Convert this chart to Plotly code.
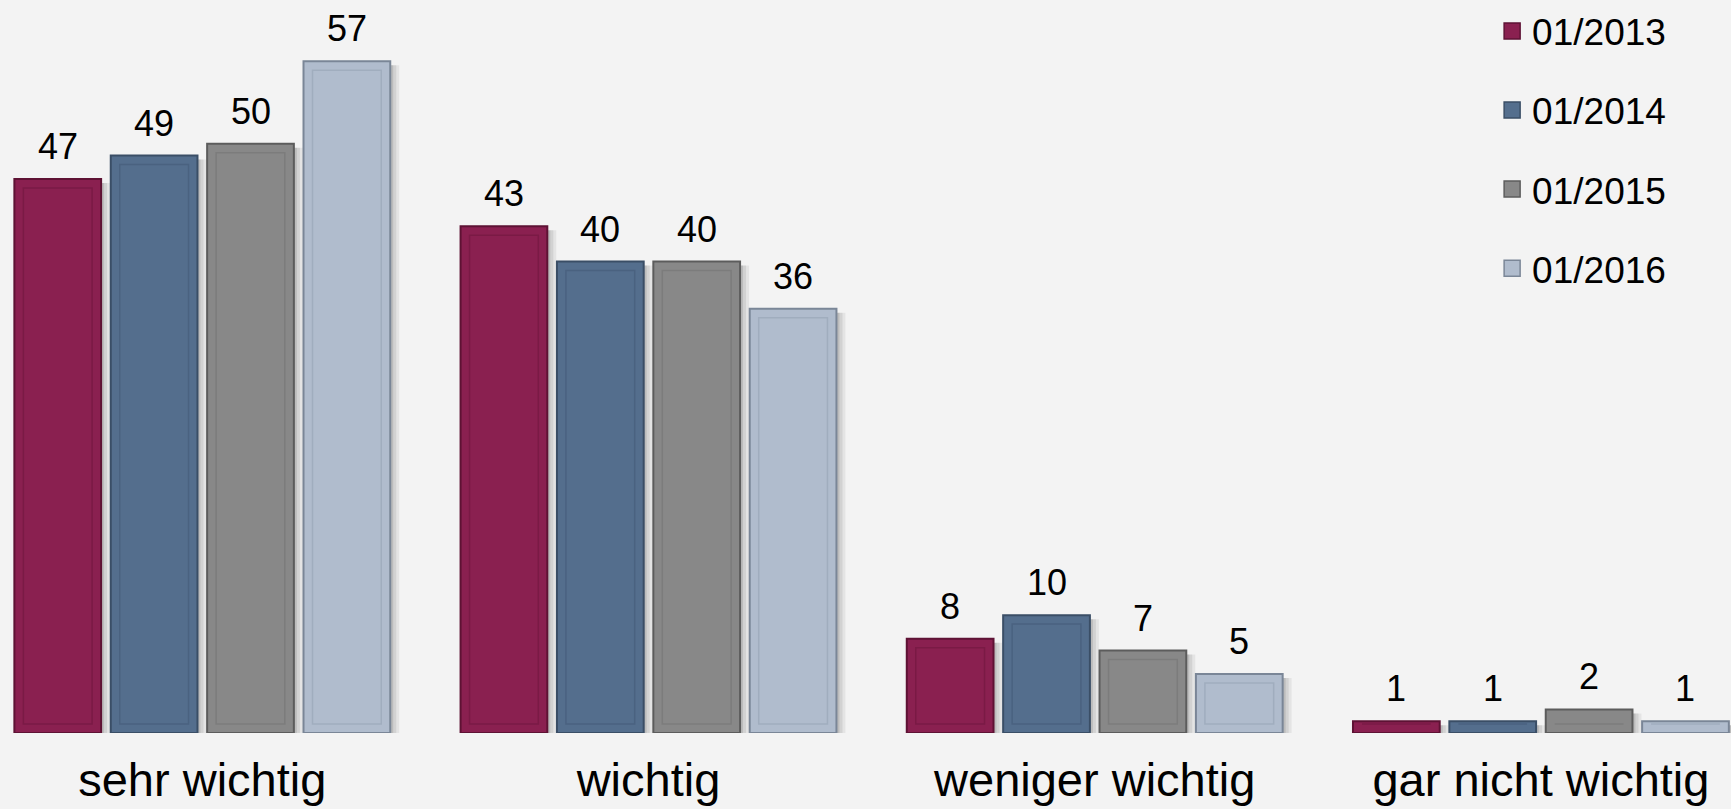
import plotly.graph_objects as go

categories = ["sehr wichtig", "wichtig", "weniger wichtig", "gar nicht wichtig"]
series_names = ["01/2013", "01/2014", "01/2015", "01/2016"]
values_2013 = [47, 43, 8, 1]
values_2014 = [49, 40, 10, 1]
values_2015 = [50, 40, 7, 2]
values_2016 = [57, 36, 5, 1]
series_values = [values_2013, values_2014, values_2015, values_2016]

fill_colors = ["#8A2050", "#546E8D", "#888888", "#B0BCCD"]
edge_colors = ["#5E1234", "#3A4E66", "#5C5C5C", "#7A8697"]
inner_colors = ["#7A1A45", "#4A6280", "#7C7C7C", "#A0ADBE"]

FONT = "Liberation Sans, Arial, Helvetica, sans-serif"
BARGAP = 0.136
GROUPGAP = 0.10
N = len(series_names)
slot = (1 - BARGAP) / N
bar_w = slot * (1 - GROUPGAP)
PX_X = 446.2   # pixels per category unit
PX_Y = 11.85   # pixels per value unit

def bar_offset(j):
    return -(1 - BARGAP) / 2 + j * slot + (slot - bar_w) / 2

fig = go.Figure()

# soft drop shadows (drawn first)
for j, vals in enumerate(series_values):
    for shift, alpha in ((9, 0.06), (6, 0.08), (3, 0.10)):
        fig.add_trace(go.Bar(
            x=categories, y=[max(v - 4 / PX_Y, 0) for v in vals],
            offset=bar_offset(j) + shift / PX_X, width=bar_w,
            marker=dict(color=f"rgba(0,0,0,{alpha})", line=dict(width=0)),
            showlegend=False, hoverinfo="skip",
        ))

for j, (name, vals) in enumerate(zip(series_names, series_values)):
    fig.add_trace(go.Bar(
        x=categories, y=vals, name=name,
        offset=bar_offset(j), width=bar_w,
        marker=dict(color=fill_colors[j], line=dict(color=edge_colors[j], width=2)),
        showlegend=False, hoverinfo="x+y+name",
    ))
    # inner bevel rectangle
    inset_y = 9 / PX_Y
    inner_vals = [v - 2 * inset_y if v > 3 * inset_y else 0 for v in vals]
    fig.add_trace(go.Bar(
        x=categories, y=inner_vals, base=inset_y,
        offset=bar_offset(j) + 9 / PX_X, width=bar_w - 18 / PX_X,
        marker=dict(color="rgba(0,0,0,0)", line=dict(color=inner_colors[j], width=1.5)),
        showlegend=False, hoverinfo="skip",
    ))
    fig.add_trace(go.Scatter(
        x=[None], y=[None], mode="markers", name=name,
        legendgroup=name,
        marker=dict(symbol="square", size=22, color=fill_colors[j],
                    line=dict(color=edge_colors[j], width=1.5)),
        showlegend=True,
    ))

# data labels centred over each bar
for j, vals in enumerate(series_values):
    for i, v in enumerate(vals):
        fig.add_annotation(
            x=i + bar_offset(j) + bar_w / 2, y=v,
            xref="x", yref="y", text=str(v), showarrow=False,
            yanchor="bottom", yshift=10,
            font=dict(family=FONT, size=36, color="#000000"),
        )

fig.update_layout(
    width=1731, height=809,
    paper_bgcolor="#F3F3F3", plot_bgcolor="#F3F3F3",
    margin=dict(l=0, r=0, t=0, b=76),
    barmode="overlay",
    font=dict(family=FONT, color="#000000"),
    xaxis=dict(
        type="category", range=[-0.4534, 3.426],
        showgrid=False, zeroline=False, showline=False, ticks="",
        tickfont=dict(family=FONT, size=47, color="#000000"),
        ticklabelstandoff=15,
    ),
    yaxis=dict(range=[0, 61.86], visible=False, showgrid=False, zeroline=False),
    legend=dict(
        x=0.862, y=1.005, xanchor="left", yanchor="top",
        font=dict(family=FONT, size=37, color="#000000"),
        bgcolor="rgba(0,0,0,0)", traceorder="grouped", tracegroupgap=28,
        itemsizing="trace",
    ),
)

fig.write_html(
    "out.html",
    config={"displayModeBar": False},
    post_script="document.body.style.margin='0';document.body.style.overflow='hidden';",
)
